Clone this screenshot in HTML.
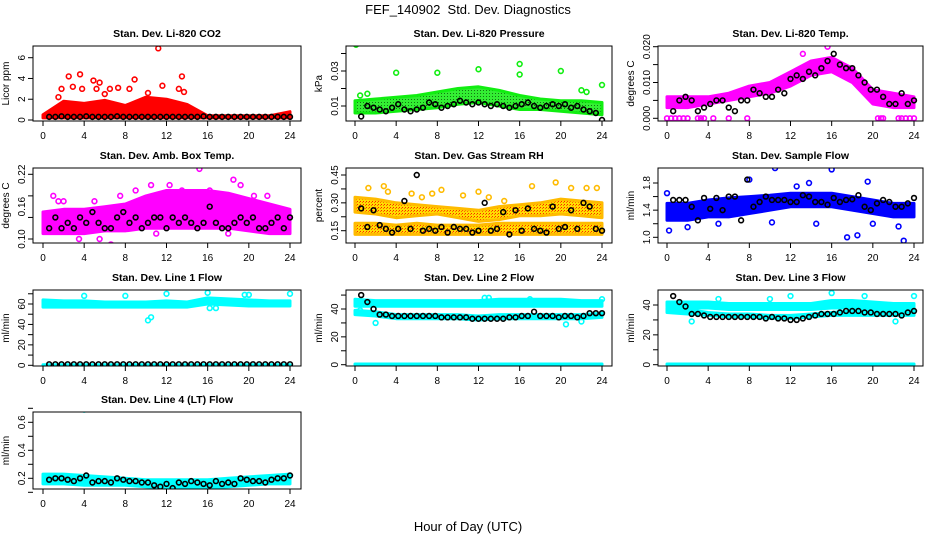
<!DOCTYPE html>
<html><head><meta charset="utf-8"><style>
body{margin:0;background:#fff;}
svg{display:block;font-family:"Liberation Sans",sans-serif;}
</style></head><body>
<svg id="chart" width="936" height="540" viewBox="0 0 936 540" xmlns="http://www.w3.org/2000/svg">
<defs>
<pattern id="pGreen" width="3" height="3" patternUnits="userSpaceOnUse"><rect width="3" height="3" fill="#33ee33"/><rect width="1" height="1" fill="#117711"/></pattern>
<pattern id="pRH" width="3" height="3" patternUnits="userSpaceOnUse"><rect width="3" height="3" fill="#ffdd00"/><rect width="1" height="1" fill="#ff2200"/><rect x="2" y="1" width="1" height="1" fill="#ff6600"/></pattern>
</defs>
<text x="468" y="14" text-anchor="middle" font-size="13">FEF_140902&#160; Std. Dev. Diagnostics</text>
<text x="468" y="531" text-anchor="middle" font-size="13">Hour of Day (UTC)</text>
</svg>
<script>
// ---- data ----
const blackHours = [0.6,1.2,1.8,2.4,3.0,3.6,4.2,4.8,5.4,6.0,6.6,7.2,7.8,8.4,9.0,9.6,10.2,10.8,11.4,12.0,12.6,13.2,13.8,14.4,15.0,15.6,16.2,16.8,17.4,18.0,18.6,19.2,19.8,20.4,21.0,21.6,22.2,22.8,23.4,24.0];
const bandHours = [0,2,4,6,8,10,12,14,16,18,20,22,24];
const xTicks = [0,4,8,12,16,20,24];

const co2Lo = [0.2,0.2,0.2,0.2,0.2,0.2,0.2,0.2,0.2,0.2,0.2,0.2,0.2];
const co2Hi = [0.5,1.8,1.6,1.9,1.4,2.2,2.0,1.5,0.4,0.4,0.4,0.4,0.8];
const co2OutH = [1.8,2.5,3.6,3.8,4.9,5.5,6.5,8.4,8.9,11.2,11.6,13.5,13.2,13.7,2.9,5.2,10.2,7.3,1.5,6.0];
const co2OutV = [3.0,4.2,4.4,3.0,3.8,3.6,3.0,3.0,3.9,6.9,3.3,4.2,3.0,2.7,3.2,3.0,2.6,3.1,2.2,2.5];
const co2Black = [0.3,0.3,0.35,0.3,0.3,0.3,0.35,0.3,0.3,0.3,0.3,0.35,0.3,0.3,0.3,0.3,0.3,0.3,0.3,0.3,0.3,0.3,0.3,0.3,0.3,0.35,0.3,0.3,0.3,0.3,0.3,0.3,0.3,0.3,0.3,0.3,0.3,0.3,0.3,0.3];

const presLo = [0.006,0.006,0.007,0.008,0.009,0.011,0.012,0.010,0.008,0.008,0.007,0.006,0.005];
const presHi = [0.013,0.014,0.015,0.016,0.018,0.020,0.021,0.019,0.016,0.014,0.013,0.013,0.012];
const presOutH = [0.1,4,8,12,16,16,20,22,22.5,24,0.5,1.2];
const presOutV = [0.045,0.029,0.029,0.031,0.034,0.028,0.030,0.019,0.018,0.022,0.016,0.017];
const presBlack = [0.004,0.010,0.009,0.008,0.007,0.009,0.011,0.008,0.007,0.008,0.009,0.012,0.011,0.009,0.010,0.011,0.013,0.012,0.011,0.012,0.011,0.010,0.011,0.010,0.009,0.010,0.011,0.012,0.010,0.009,0.010,0.011,0.010,0.011,0.009,0.010,0.008,0.007,0.006,0.002];

const tempLo = [0.003,0.003,0.004,0.005,0.006,0.007,0.009,0.012,0.013,0.010,0.004,0.003,0.003];
const tempHi = [0.006,0.006,0.006,0.007,0.009,0.010,0.013,0.016,0.017,0.014,0.008,0.007,0.006];
const tempOutH = [0,0.4,0.8,1.2,1.6,2.0,3.0,3.3,3.6,4.5,6.0,7.8,20.5,20.8,21.0,22.5,22.8,23.2,23.6,24,15.6,13.2];
const tempOutV = [0,0,0,0,0,0,0,0,0,0,0,0,0,0,0,0,0,0,0,0,0.020,0.018];
const tempBlack = [0.002,0.005,0.006,0.005,0.002,0.003,0.004,0.005,0.005,0.003,0.002,0.005,0.005,0.008,0.007,0.006,0.006,0.008,0.007,0.011,0.012,0.011,0.013,0.012,0.014,0.016,0.018,0.015,0.014,0.014,0.012,0.010,0.008,0.008,0.006,0.004,0.004,0.007,0.004,0.005];

const ambLo = [0.11,0.11,0.11,0.115,0.115,0.12,0.12,0.12,0.12,0.12,0.115,0.11,0.11];
const ambHi = [0.15,0.155,0.155,0.16,0.165,0.18,0.19,0.19,0.19,0.185,0.175,0.165,0.155];
const ambOutH = [1.0,1.5,2.0,5.0,6.6,7.5,9.0,10.5,11.0,12.3,13.5,15.2,16.2,18.0,18.5,19.2,20.5,21.8,3.5,5.5];
const ambOutV = [0.18,0.17,0.17,0.17,0.09,0.18,0.19,0.20,0.11,0.20,0.19,0.23,0.19,0.11,0.21,0.20,0.18,0.18,0.10,0.10];
const ambBlack = [0.12,0.14,0.12,0.13,0.12,0.14,0.13,0.15,0.13,0.12,0.12,0.14,0.15,0.13,0.14,0.12,0.13,0.14,0.14,0.12,0.14,0.13,0.14,0.13,0.12,0.13,0.16,0.13,0.12,0.12,0.13,0.14,0.13,0.14,0.12,0.12,0.13,0.14,0.12,0.14];

const rhLo = [0.13,0.13,0.13,0.13,0.13,0.13,0.13,0.13,0.13,0.13,0.13,0.13,0.13];
const rhMid = [0.19,0.19,0.18,0.19,0.18,0.18,0.18,0.19,0.19,0.19,0.19,0.19,0.19];
const rhLo2 = [0.25,0.24,0.22,0.23,0.24,0.22,0.20,0.21,0.23,0.23,0.24,0.23,0.22];
const rhHi2 = [0.33,0.32,0.30,0.29,0.28,0.27,0.26,0.28,0.29,0.30,0.32,0.31,0.30];
const rhOutH = [1.3,2.8,3.2,5.5,6.5,7.5,8.4,10.5,12.0,13.0,14.5,17.2,19.5,21.0,22.5,23.5];
const rhOutV = [0.38,0.39,0.36,0.35,0.33,0.35,0.37,0.34,0.36,0.33,0.31,0.39,0.41,0.38,0.38,0.38];
const rhBlack = [0.27,0.17,0.26,0.18,0.16,0.14,0.16,0.31,0.16,0.45,0.15,0.16,0.15,0.17,0.14,0.17,0.16,0.16,0.14,0.15,0.30,0.15,0.16,0.25,0.13,0.26,0.15,0.27,0.16,0.15,0.14,0.28,0.16,0.17,0.26,0.16,0.30,0.28,0.16,0.15];

const flowLo = [1.25,1.25,1.3,1.3,1.35,1.4,1.45,1.45,1.45,1.4,1.35,1.3,1.3];
const flowHi = [1.5,1.5,1.55,1.58,1.6,1.62,1.65,1.65,1.65,1.6,1.55,1.5,1.5];
const flowOutH = [0.0,0.2,2.0,5.0,8.0,10.2,10.5,12.6,13.8,16.0,17.5,18.5,19.5,20.0,22.5,23.0,23.8,14.5];
const flowOutV = [1.65,1.1,1.15,1.2,1.85,1.22,2.02,1.75,1.8,2.0,1.0,1.03,1.82,1.2,1.16,0.95,1.33,1.2];
const flowBlack = [1.55,1.55,1.55,1.45,1.25,1.58,1.42,1.58,1.40,1.60,1.60,1.25,1.85,1.45,1.52,1.60,1.55,1.55,1.55,1.52,1.52,1.62,1.60,1.52,1.52,1.48,1.58,1.52,1.55,1.56,1.62,1.45,1.40,1.50,1.55,1.52,1.45,1.45,1.50,1.58];

const l1Lo = [57,57,57,57,57,57,57,57,60,59,58,58,58];
const l1Hi = [64,63,63,62,62,62,63,62,66,65,64,63,63];
const l1OutH = [4,8,10.2,10.5,12,16,16.2,16.8,19.6,20,24];
const l1OutV = [68,68,44,47,70,71,56,56,69,69,70];
const l1Black = [1,1,1,1,1,1,1,1,1,1,1,1,1,1,1,1,1,1,1,1,1,1,1,1,1,1,1,1,1,1,1,1,1,1,1,1,1,1,1,1];

const l2Lo = [42,42,42,42,42,42,42,42,42,42,42,42,42];
const l2Hi = [47,46,46,46,46,46,46,47,47,47,47,46,46];
const l2Lo2 = [36,35,33,33,33,33,32,33,33,33,33,33,34];
const l2Hi2 = [39,38,36,36,36,36,35,36,36,36,36,36,37];
const l2OutH = [2.0,0.2,0.5,12.6,13.0,17.0,20.5,22.0,24];
const l2OutV = [30,38,39,48,48,47,29,31,47];
const l2Black = [50,45,40,36,36,35,35,35,35,35,35,35,35,34,34,34,34,34,33,33,33,33,33,33,34,34,35,35,38,35,35,35,34,35,35,34,35,37,37,37];

const l3Lo = [39,38,38,37,37,37,37,37,38,38,37,37,37];
const l3Hi = [42,42,42,41,41,41,41,41,43,43,42,41,41];
const l3Lo2 = [35,34,33,32,32,31,31,32,33,33,33,33,33];
const l3Hi2 = [38,37,35,34,34,33,33,34,35,36,36,36,36];
const l3OutH = [2.4,5.0,10.0,12.0,16.0,19.2,22.2,24,0.6];
const l3OutV = [29,44,44,46,48,46,29,46,36];
const l3Black = [46,42,39,34,34,33,32,32,32,32,32,32,32,32,32,31,32,31,31,30,30,31,32,33,34,34,34,35,36,36,36,35,35,34,34,34,34,33,35,36];

const l4Lo = [0.16,0.16,0.15,0.15,0.15,0.14,0.13,0.13,0.13,0.14,0.15,0.16,0.16];
const l4Hi = [0.23,0.23,0.22,0.21,0.2,0.19,0.19,0.19,0.19,0.2,0.21,0.22,0.23];
const l4OutH = [4,12,20];
const l4OutV = [0.69,0.75,0.77];
const l4Black = [0.19,0.2,0.2,0.19,0.18,0.2,0.22,0.17,0.18,0.18,0.17,0.2,0.19,0.18,0.18,0.17,0.17,0.15,0.14,0.16,0.13,0.17,0.16,0.18,0.17,0.16,0.15,0.18,0.16,0.17,0.16,0.2,0.19,0.18,0.18,0.17,0.19,0.2,0.2,0.22];

const zeroLo = [0,0,0,0,0,0,0,0,0,0,0,0,0];
const zeroHi = [0.5,0.5,0.5,0.5,0.5,0.5,0.5,0.5,0.5,0.5,0.5,0.5,0.5];

// ---- layout ----
const NS = "http://www.w3.org/2000/svg";
const svg = document.getElementById('chart');
const cols = [{bx:33,bw:268,x0:43,x24:290},{bx:346,bw:266,x0:355,x24:602},{bx:658,bw:265,x0:667,x24:914}];
const rows = [{by:46,bb:121,ty:37},{by:168,bb:243,ty:159},{by:290,bb:366,ty:281},{by:412,bb:489,ty:403}];

function el(tag, attrs, parent){const e=document.createElementNS(NS,tag);for(const k in attrs)e.setAttribute(k,attrs[k]);(parent||svg).appendChild(e);return e;}

const panels = [
 {name:'co2',title:'Stan. Dev. Li-820 CO2',ylab:'Licor ppm',c:0,r:0,cal:[0,120,6,57.7],ticks:[0,2,4,6],labs:[0,2,4,6],fmt:0,color:'#ff0000',fill:'#ff0000',bands:[[co2Lo,co2Hi]],oh:co2OutH,ov:co2OutV,black:co2Black},
 {name:'pressure',title:'Stan. Dev. Li-820 Pressure',ylab:'kPa',c:1,r:0,cal:[0.01,106,0.03,71],ticks:[0.01,0.02,0.03,0.04],labs:[0.01,0.03],fmt:2,color:'#11ee11',fill:'url(#pGreen)',bands:[[presLo,presHi]],oh:presOutH,ov:presOutV,black:presBlack},
 {name:'li820-temp',title:'Stan. Dev. Li-820 Temp.',ylab:'degrees C',c:2,r:0,cal:[0,118.3,0.02,46.7],ticks:[0,0.005,0.01,0.015,0.02],labs:[0,0.01,0.02],fmt:3,color:'#ff00ff',fill:'#ff00ff',bands:[[tempLo,tempHi]],oh:tempOutH,ov:tempOutV,black:tempBlack},
 {name:'amb-box-temp',title:'Stan. Dev. Amb. Box Temp.',ylab:'degrees C',c:0,r:1,cal:[0.10,239,0.22,174.3],ticks:[0.10,0.14,0.18,0.22],labs:[0.10,0.16,0.22],fmt:2,color:'#ff00ff',fill:'#ff00ff',bands:[[ambLo,ambHi]],oh:ambOutH,ov:ambOutV,black:ambBlack},
 {name:'gas-stream-rh',title:'Stan. Dev. Gas Stream RH',ylab:'percent',c:1,r:1,cal:[0.15,230.7,0.45,175],ticks:[0.15,0.225,0.30,0.375,0.45],labs:[0.15,0.30,0.45],fmt:2,color:'#ffbb00',fill:'url(#pRH)',bands:[[rhLo,rhMid],[rhLo2,rhHi2]],oh:rhOutH,ov:rhOutV,black:rhBlack},
 {name:'sample-flow',title:'Stan. Dev. Sample Flow',ylab:'ml/min',c:2,r:1,cal:[1.0,237.3,1.8,183],ticks:[1.0,1.2,1.4,1.6,1.8],labs:[1.0,1.4,1.8],fmt:1,color:'#0000ff',fill:'#0000ff',bands:[[flowLo,flowHi]],oh:flowOutH,ov:flowOutV,black:flowBlack},
 {name:'line1-flow',title:'Stan. Dev. Line 1 Flow',ylab:'ml/min',c:0,r:2,cal:[0,365.3,60,304],ticks:[0,10,20,30,40,50,60,70],labs:[0,20,40,60],fmt:0,color:'#00ffff',fill:'#00ffff',bands:[[l1Lo,l1Hi],[zeroLo,zeroHi]],oh:l1OutH,ov:l1OutV,black:l1Black},
 {name:'line2-flow',title:'Stan. Dev. Line 2 Flow',ylab:'ml/min',c:1,r:2,cal:[0,364.7,40,309],ticks:[0,10,20,30,40,50],labs:[0,20,40],fmt:0,color:'#00ffff',fill:'#00ffff',bands:[[l2Lo,l2Hi],[l2Lo2,l2Hi2],[zeroLo,zeroHi]],oh:l2OutH,ov:l2OutV,black:l2Black},
 {name:'line3-flow',title:'Stan. Dev. Line 3 Flow',ylab:'ml/min',c:2,r:2,cal:[0,364.7,40,305],ticks:[0,10,20,30,40],labs:[0,20,40],fmt:0,color:'#00ffff',fill:'#00ffff',bands:[[l3Lo,l3Hi],[l3Lo2,l3Hi2],[zeroLo,zeroHi]],oh:l3OutH,ov:l3OutV,black:l3Black},
 {name:'line4-flow',title:'Stan. Dev. Line 4 (LT) Flow',ylab:'ml/min',c:0,r:3,cal:[0.2,478.3,0.6,422.3],ticks:[0.1,0.2,0.3,0.4,0.5,0.6,0.7],labs:[0.2,0.4,0.6],fmt:1,color:'#00ffff',fill:'#00ffff',bands:[[l4Lo,l4Hi]],oh:l4OutH,ov:l4OutV,black:l4Black}
];

panels.forEach((p,pi)=>{
  const C=cols[p.c], R=rows[p.r];
  const g=el('g',{});
  
  
  const xs=h=>C.x0+(h/24)*(C.x24-C.x0);
  const ys=v=>p.cal[1]+(v-p.cal[0])*(p.cal[3]-p.cal[1])/(p.cal[2]-p.cal[0]);
  const cid='clip'+pi;
  const cp=el('clipPath',{id:cid},g);
  el('rect',{x:C.bx,y:R.by,width:C.bw,height:R.bb-R.by},cp);
  const t=el('text',{x:C.bx+C.bw/2,y:R.ty,'text-anchor':'middle','font-size':'10.5','font-weight':'bold'},g);
  t.textContent=p.title;
  
  
  const yl=el('text',{transform:`translate(${C.bx-24},${(R.by+R.bb)/2}) rotate(-90)`,'text-anchor':'middle','font-size':'10'},g);
  yl.textContent=p.ylab;
  
  
  const data=el('g',{'clip-path':`url(#${cid})`},g);
  p.bands.forEach((b,bi)=>{
    let d='';
    bandHours.forEach((h,i)=>{d+=(i?'L':'M')+xs(h).toFixed(1)+','+ys(b[1][i]).toFixed(1);});
    for(let i=bandHours.length-1;i>=0;i--)d+='L'+xs(bandHours[i]).toFixed(1)+','+ys(b[0][i]).toFixed(1);
    const band=el('path',{d:d+'Z',fill:p.fill,stroke:p.color,'stroke-width':'3','stroke-linejoin':'round'},data);
    
    
  });
  p.oh.forEach((h,i)=>{
    const c=el('circle',{cx:xs(h),cy:ys(p.ov[i]),r:2.4,fill:'none',stroke:p.color,'stroke-width':'1.6'},data);
    
    
  });
  p.black.forEach((v,i)=>{
    const c=el('circle',{cx:xs(blackHours[i]),cy:ys(v),r:2.4,fill:'none',stroke:'#000','stroke-width':'1.6'},data);
    
    
  });
  const box=el('rect',{x:C.bx,y:R.by,width:C.bw,height:R.bb-R.by,fill:'none',stroke:'#000','stroke-width':'1'},g);
  
  
  xTicks.forEach(h=>{
    el('line',{x1:xs(h),x2:xs(h),y1:R.bb,y2:R.bb+5,stroke:'#000'},g);
    const tl=el('text',{x:xs(h),y:R.bb+18,'text-anchor':'middle','font-size':'10'},g);
    tl.textContent=h;
    
    
  });
  p.ticks.forEach(v=>{el('line',{x1:C.bx-5,x2:C.bx,y1:ys(v),y2:ys(v),stroke:'#000'},g);});
  p.labs.forEach(v=>{
    const tl=el('text',{transform:`translate(${C.bx-8},${ys(v)}) rotate(-90)`,'text-anchor':'middle','font-size':'10'},g);
    tl.textContent=v.toFixed(p.fmt);
    
    
  });
});
</script>
</body></html>
